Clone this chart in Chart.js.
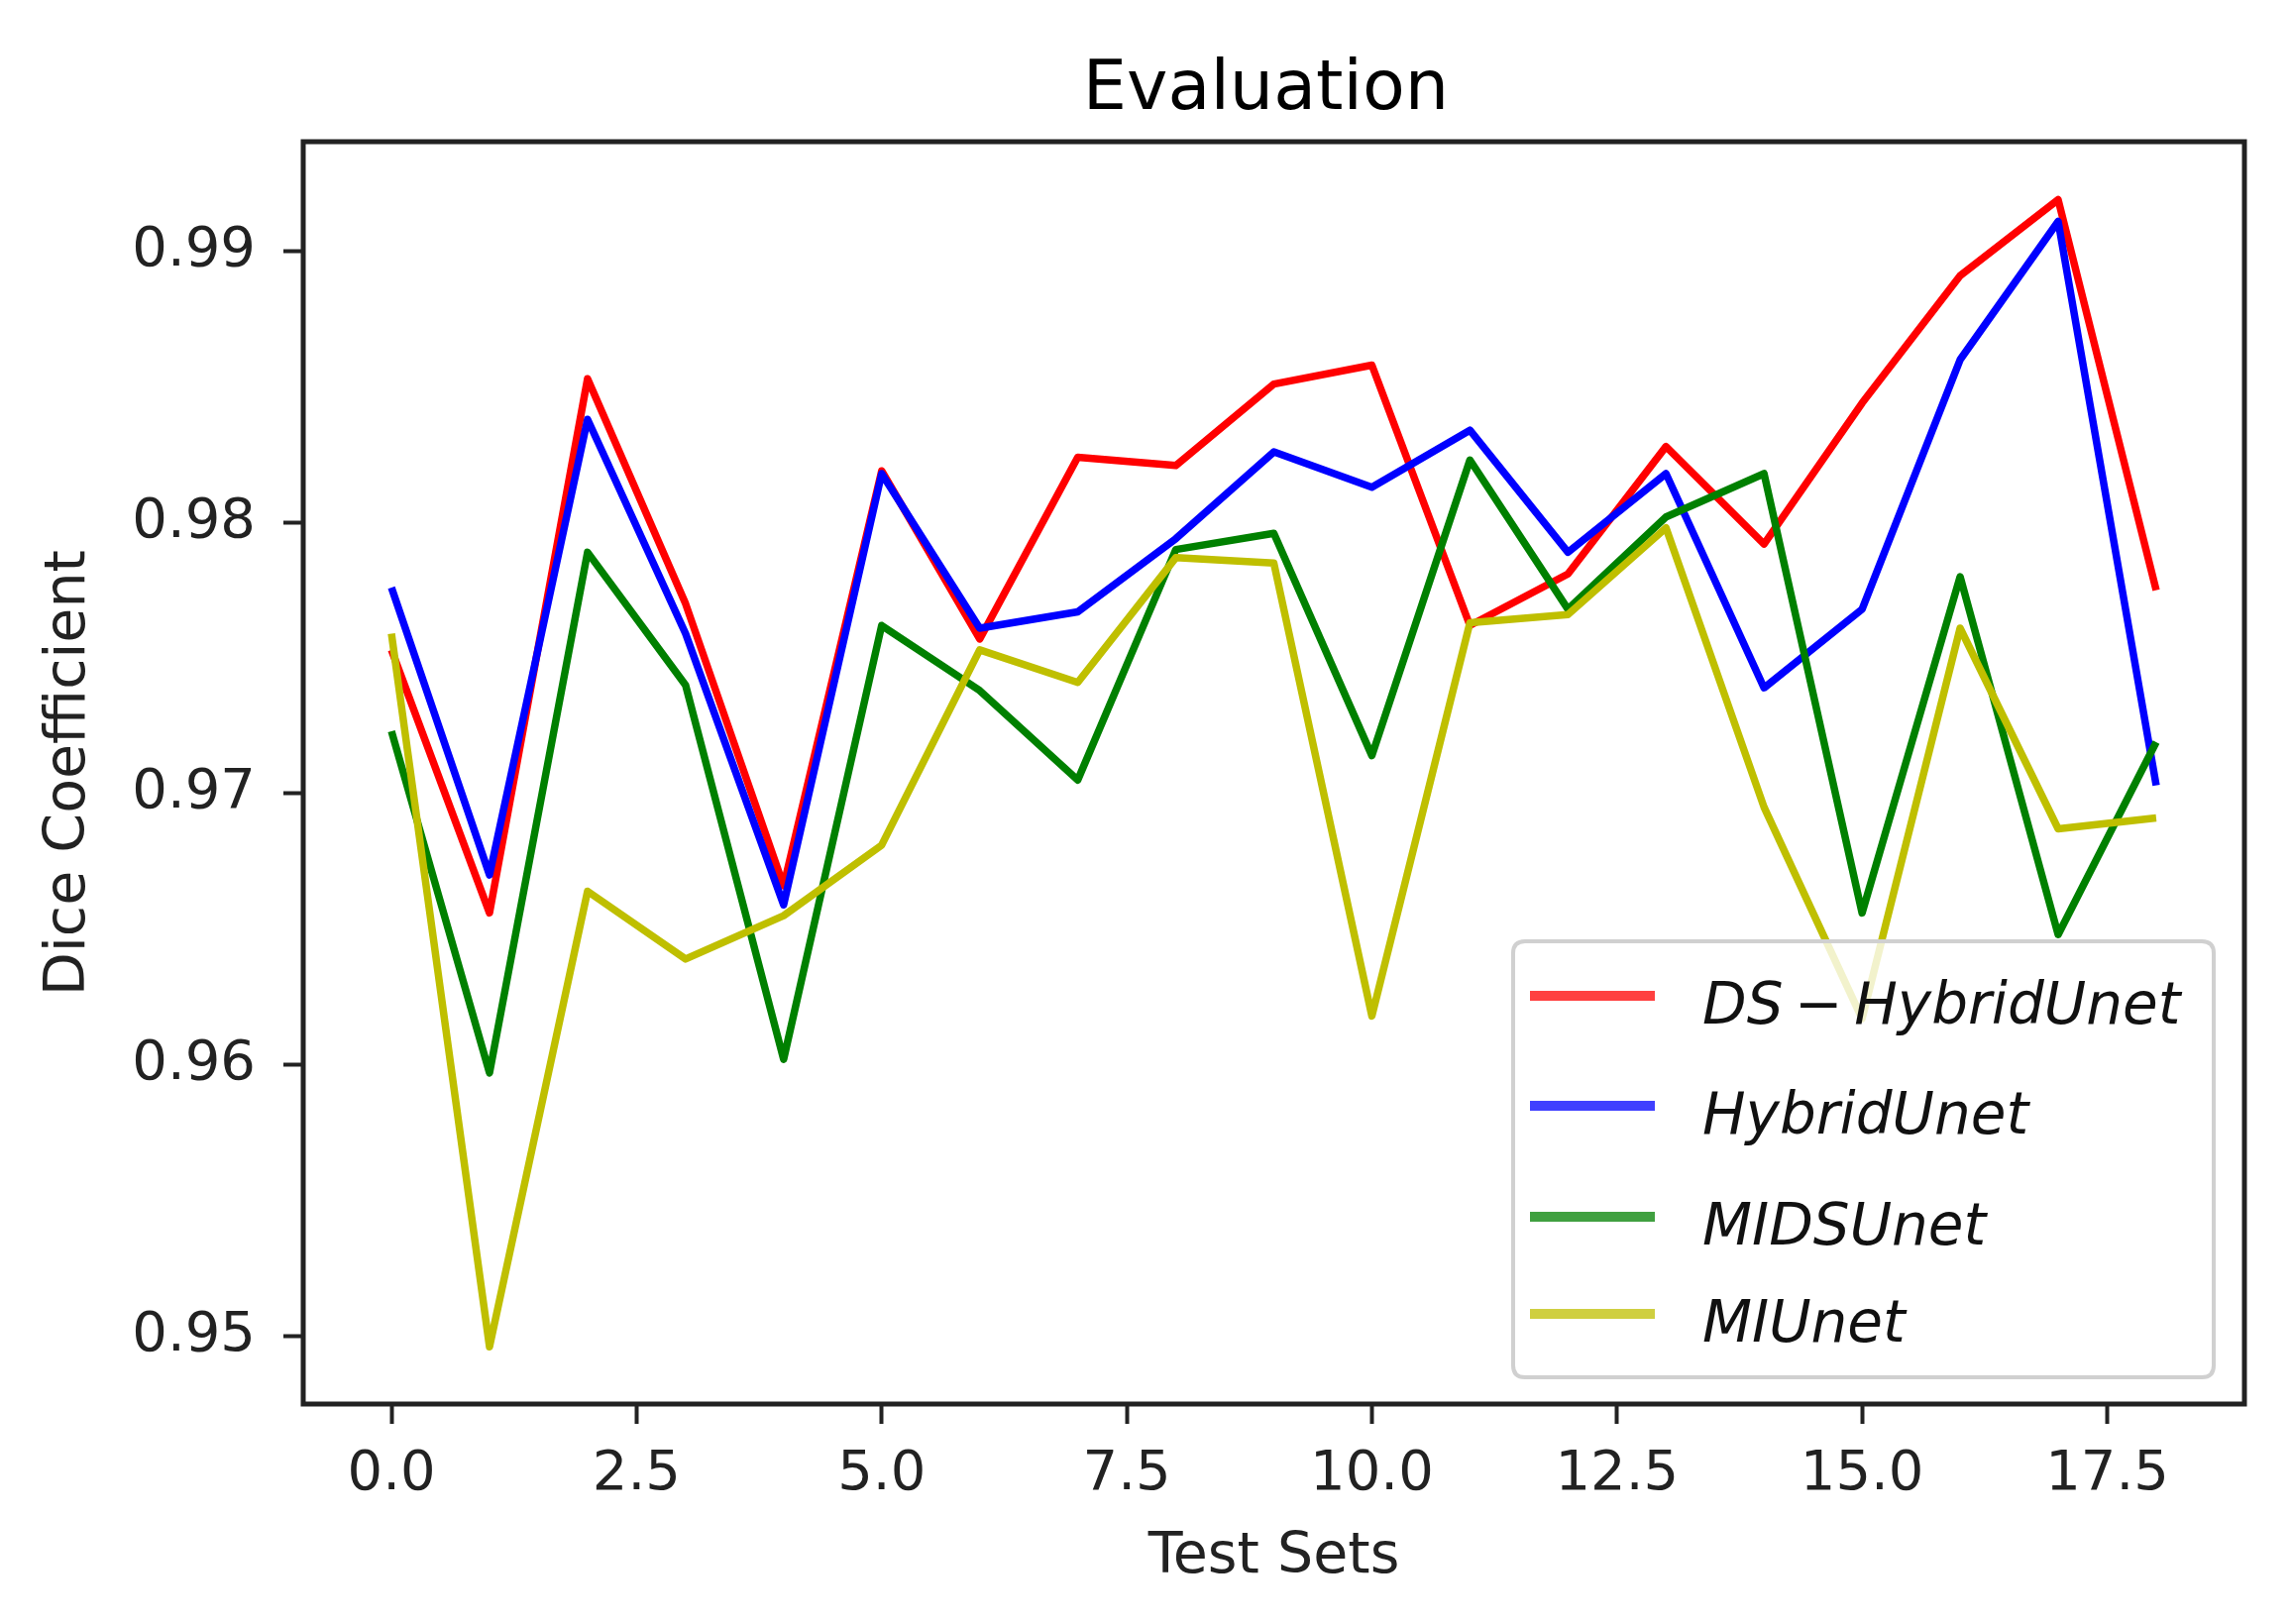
<!DOCTYPE html>
<html>
<head>
<meta charset="utf-8">
<script src="https://cdn.jsdelivr.net/npm/chart.js@4.4.1/dist/chart.umd.min.js"></script>
<style>
html,body{margin:0;padding:0;background:#ffffff;}
canvas{display:block;}
</style>
</head>
<body>
<canvas id="c" width="2313" height="1639"></canvas>
<script>
// ---- data ----
const testSets = [0,1,2,3,4,5,6,7,8,9,10,11,12,13,14,15,16,17,18];
const dsHybridUnet = [0.9753,0.9656,0.9853,0.9770,0.9666,0.9819,0.9757,0.9824,0.9821,0.9851,0.9858,0.9762,0.9781,0.9828,0.9792,0.9844,0.9891,0.9919,0.9775];
const hybridUnet   = [0.9776,0.9670,0.9838,0.9759,0.9659,0.9818,0.9761,0.9767,0.9794,0.9826,0.9813,0.9834,0.9789,0.9818,0.9739,0.9768,0.9860,0.9911,0.9703];
const midsUnet     = [0.9723,0.9597,0.9789,0.9740,0.9602,0.9762,0.9738,0.9705,0.9790,0.9796,0.9714,0.9823,0.9768,0.9802,0.9818,0.9656,0.9780,0.9648,0.9719];
const miUnet       = [0.9759,0.9496,0.9664,0.9639,0.9655,0.9681,0.9753,0.9741,0.9787,0.9785,0.9618,0.9763,0.9766,0.9798,0.9695,0.9617,0.9761,0.9687,0.9691];
const seriesLabels = ['DS\u2009\u2212\u2009HybridUnet','HybridUnet','MIDSUnet','MIUnet'];
const xTicks = [0,2.5,5,7.5,10,12.5,15,17.5];
const yTicks = [0.95,0.96,0.97,0.98,0.99];

const colors = ['#ff0000','#0000ff','#008000','#bfbf00'];
const legendColors = ['rgba(255,0,0,0.75)','rgba(0,0,255,0.75)','rgba(0,128,0,0.75)','rgba(191,191,0,0.75)'];
const allSeries = [dsHybridUnet, hybridUnet, midsUnet, miUnet];

const FONT = "'DejaVu Sans', 'Noto Sans', sans-serif";

const datasets = allSeries.map((s, k) => ({
  label: seriesLabels[k],
  data: testSets.map((x, i) => ({x: x, y: s[i]})),
  borderColor: colors[k],
  backgroundColor: colors[k],
  borderWidth: 7.5,
  pointRadius: 0,
  tension: 0,
  fill: false,
  borderJoinStyle: 'round',
  borderCapStyle: 'butt',
  order: 3 - k
}));

const bgPlugin = {
  id: 'bg',
  beforeDraw(chart) {
    const ctx = chart.ctx;
    ctx.save();
    ctx.fillStyle = '#ffffff';
    ctx.fillRect(0, 0, chart.width, chart.height);
    ctx.restore();
  }
};

const framePlugin = {
  id: 'frame',
  afterDatasetsDraw(chart) {
    const a = chart.chartArea, ctx = chart.ctx;
    ctx.save();
    ctx.strokeStyle = '#222222';
    ctx.lineWidth = 5;
    ctx.strokeRect(a.left, a.top, a.right - a.left, a.bottom - a.top);
    // title
    ctx.fillStyle = '#000000';
    ctx.font = '70px ' + FONT;
    ctx.textAlign = 'center';
    ctx.textBaseline = 'alphabetic';
    ctx.fillText('Evaluation', (a.left + a.right) / 2 - 8, a.top - 33);
    ctx.restore();
  }
};

const legendPlugin = {
  id: 'insideLegend',
  afterDraw(chart) {
    const a = chart.chartArea, ctx = chart.ctx;
    const w = 707, h = 440;
    const x0 = a.right - 31 - w, y0 = a.bottom - 27 - h;
    const r = 12;
    ctx.save();
    ctx.beginPath();
    ctx.moveTo(x0 + r, y0);
    ctx.lineTo(x0 + w - r, y0);
    ctx.quadraticCurveTo(x0 + w, y0, x0 + w, y0 + r);
    ctx.lineTo(x0 + w, y0 + h - r);
    ctx.quadraticCurveTo(x0 + w, y0 + h, x0 + w - r, y0 + h);
    ctx.lineTo(x0 + r, y0 + h);
    ctx.quadraticCurveTo(x0, y0 + h, x0, y0 + h - r);
    ctx.lineTo(x0, y0 + r);
    ctx.quadraticCurveTo(x0, y0, x0 + r, y0);
    ctx.closePath();
    ctx.fillStyle = 'rgba(255,255,255,0.8)';
    ctx.fill();
    ctx.strokeStyle = '#d0d0d0';
    ctx.lineWidth = 4;
    ctx.stroke();
    const rows = [55, 166, 278, 376];
    chart.data.datasets.forEach((d, k) => {
      const y = y0 + rows[k];
      ctx.beginPath();
      ctx.moveTo(x0 + 17, y);
      ctx.lineTo(x0 + 143, y);
      ctx.strokeStyle = legendColors[k];
      ctx.lineWidth = 10;
      ctx.lineCap = 'butt';
      ctx.stroke();
      ctx.fillStyle = '#111111';
      ctx.font = 'italic 58px ' + FONT;
      ctx.textAlign = 'left';
      ctx.textBaseline = 'alphabetic';
      ctx.fillText(d.label, x0 + 191, y + 28);
    });
    ctx.restore();
  }
};

new Chart(document.getElementById('c'), {
  type: 'line',
  data: { datasets: datasets },
  plugins: [bgPlugin, framePlugin, legendPlugin],
  options: {
    responsive: false,
    devicePixelRatio: 1,
    animation: false,
    layout: { padding: { top: 143, right: 48, left: 0, bottom: 0 } },
    plugins: {
      legend: { display: false },
      title: { display: false },
      tooltip: { enabled: false }
    },
    scales: {
      x: {
        type: 'linear',
        min: -0.9,
        max: 18.9,
        afterBuildTicks(scale) { scale.ticks = xTicks.map(v => ({value: v})); },
        afterFit(scale) { scale.height = 222; },
        grid: { display: true, drawOnChartArea: false, drawTicks: true, tickLength: 20, tickWidth: 4, tickColor: '#222222', color: '#222222' },
        border: { display: false },
        ticks: {
          padding: 18,
          color: '#222222',
          font: { family: FONT, size: 56 },
          maxRotation: 0,
          autoSkip: false,
          callback: v => Number(v).toFixed(1)
        },
        title: {
          display: true,
          text: 'Test Sets',
          color: '#222222',
          font: { family: FONT, size: 57 },
          padding: { top: 0, bottom: 33 }
        }
      },
      y: {
        type: 'linear',
        min: 0.94749,
        max: 0.99404,
        afterBuildTicks(scale) { scale.ticks = yTicks.map(v => ({value: v})); },
        afterFit(scale) { scale.width = 306; },
        grid: { display: true, drawOnChartArea: false, drawTicks: true, tickLength: 20, tickWidth: 4, tickColor: '#222222', color: '#222222' },
        border: { display: false },
        ticks: {
          padding: 28,
          color: '#222222',
          font: { family: FONT, size: 56 },
          autoSkip: false,
          callback: v => Number(v).toFixed(2)
        },
        title: {
          display: true,
          text: 'Dice Coefficient',
          color: '#222222',
          font: { family: FONT, size: 57 },
          padding: { top: 36, bottom: 0 }
        }
      }
    }
  }
});
</script>
</body>
</html>
